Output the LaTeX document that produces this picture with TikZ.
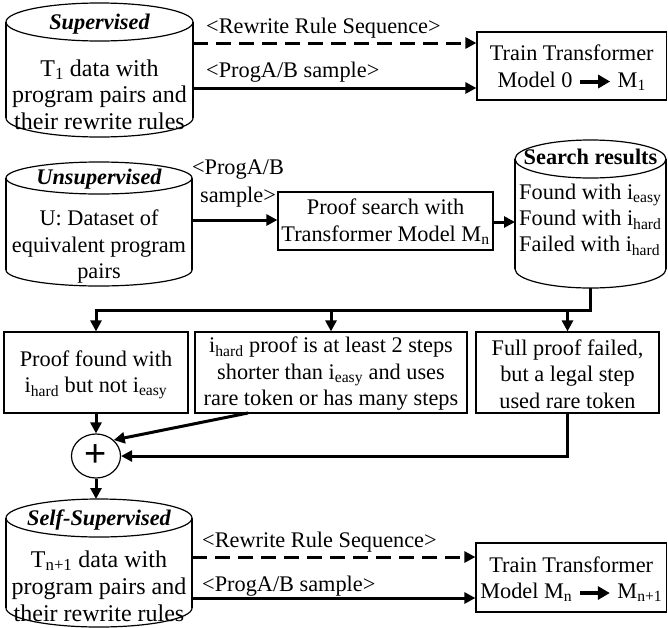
\documentclass[tikz,border=0pt]{standalone}
\usepackage{fontspec}
\setmainfont{Liberation Serif}
\setsansfont{Liberation Sans}
\usetikzlibrary{arrows.meta,shapes.geometric}

\newcommand\myfs{\fontsize{22.3}{26.5}\selectfont}
\newcommand\mybig{\fontsize{24}{26.5}\selectfont}
\newcommand\thickarr{\tikz[baseline=-5.5pt]\draw[line width=4pt,-{Triangle[length=12pt,width=13pt]}] (0pt,0pt) -- (30pt,0pt);}

\tikzset{
  conn/.style={line width=3pt, -{Triangle[length=11pt,width=11pt]}},
  dashconn/.style={conn, dash pattern=on 15pt off 8pt},
  boxnode/.style={draw, line width=1.2pt, inner sep=0pt, align=center, font=\myfs},
  region/.style={inner sep=0pt, outer sep=0pt},
  txt/.style={inner sep=0pt, align=center, font=\myfs},
  lbl/.style={inner sep=0pt, anchor=west, font=\myfs},
  head/.style={inner sep=0pt, font=\myfs\bfseries\itshape},
  cyl/.style={line width=1.2pt},
}

\begin{document}
\begin{tikzpicture}[x=1pt,y=-1pt]
\useasboundingbox (0,0) rectangle (668,627);

% ---------- Supervised cylinder ----------
\draw[cyl] (6,118) -- (6,22) (193,22) -- (193,118);
\draw[cyl] (6,118) arc[start angle=180,end angle=360,x radius=93.5pt,y radius=19pt];
\draw[cyl] (99.5,22) ellipse[x radius=93.5pt,y radius=19pt];
\node[region, minimum width=187pt, minimum height=135pt] (sup) at (99.5,69.5) {};
\node[head] (supT) at (99.5,24) {Supervised};
\node[txt, font=\mybig] (supB) at (99.5,94.5) {T\textsubscript{1} data with\\program pairs and\\their rewrite rules};

\node[boxnode, minimum width=189.5pt, minimum height=68pt] (train1) at (571.75,66) {};
\node[txt] (train1T) at (571.75,67.5) {Train Transformer\\Model 0 \thickarr\ M\textsubscript{1}};

\node[lbl] (lab1) at (206,28) {<Rewrite Rule Sequence>};
\node[lbl] (lab2) at (206,72) {<ProgA/B sample>};

\coordinate (ya) at (0,43);
\coordinate (yb) at (0,88);
\draw[dashconn] (sup.east |- ya) -- (train1.west |- ya);
\draw[conn] (sup.east |- yb) -- (train1.west |- yb);

% ---------- Unsupervised cylinder ----------
\draw[cyl] (6,178) -- (6,270) (192,178) -- (192,270);
\draw[cyl] (6,270) arc[start angle=180,end angle=360,x radius=93pt,y radius=16pt];
\draw[cyl] (99,178) ellipse[x radius=93pt,y radius=16pt];
\node[region, minimum width=186pt, minimum height=124pt] (unsup) at (99,224) {};
\node[head] (unsupT) at (99,179) {Unsupervised};
\node[txt] (unsupB) at (99,247) {U: Dataset of\\equivalent program\\pairs};

\node[txt, font=\fontsize{22.3}{28}\selectfont] (lab3) at (238,184) {<ProgA/B\\sample>};

\node[boxnode, minimum width=215pt, minimum height=58pt] (proof) at (385.5,221) {};
\node[txt, font=\fontsize{22.3}{27}\selectfont] (proofT) at (385.5,222) {Proof search with\\Transformer Model M\textsubscript{n}};

\coordinate (yc) at (0,220);
\draw[conn] (unsup.east |- yc) -- (proof.west |- yc);

% ---------- Search results cylinder ----------
\draw[cyl] (515,159) -- (515,269) (666,159) -- (666,269);
\draw[cyl] (515,269) arc[start angle=180,end angle=360,x radius=75.5pt,y radius=19pt];
\draw[cyl] (590.5,159) ellipse[x radius=75.5pt,y radius=19pt];
\node[region, minimum width=151pt, minimum height=148pt] (search) at (590.5,214) {};
\node[inner sep=0pt, font=\myfs\bfseries] (searchT) at (590.5,157) {Search results};
\node[txt, align=left, anchor=west, font=\fontsize{22.3}{26}\selectfont] (searchB) at (519,220) {Found with i\textsubscript{easy}\\Found with i\textsubscript{hard}\\Failed with i\textsubscript{hard}};

\coordinate (yd) at (0,222);
\draw[conn] (proof.east |- yd) -- (search.west |- yd);

% ---------- three criteria boxes ----------
\node[boxnode, minimum width=184pt, minimum height=81pt] (box1) at (96,372.5) {};
\node[txt] (box1T) at (96,375) {Proof found with\\i\textsubscript{hard} but not i\textsubscript{easy}};
\node[boxnode, minimum width=272pt, minimum height=81pt] (box2) at (331,372.5) {};
\node[txt] (box2T) at (331,374) {i\textsubscript{hard} proof is at least 2 steps\\shorter than i\textsubscript{easy} and uses\\rare token or has many steps};
\node[boxnode, minimum width=183pt, minimum height=81pt] (box3) at (567.5,372.5) {};
\node[txt] (box3T) at (567.5,374) {Full proof failed,\\but a legal step\\used rare token};

\coordinate (sp) at (0,310);
\draw[conn] (search.south) |- (box1.north |- sp) -- (box1.north);
\draw[conn] (box2.north |- sp) -- (box2.north);
\draw[conn] (box3.north |- sp) -- (box3.north);

% ---------- plus ----------
\node[ellipse, draw, line width=1.2pt, inner sep=0pt, minimum width=49pt, minimum height=44pt,
      font=\fontsize{38}{38}\selectfont\sffamily] (plus) at (96,456) {\raisebox{-3pt}{+}};

\coordinate (b2s) at (248,413);
\draw[conn] (box1.south) -- (plus.north);
\draw[conn] (b2s) -- (plus.north east);
\draw[conn] (box3.south) |- (plus.east);

% ---------- Self-Supervised cylinder ----------
\draw[cyl] (6,518) -- (6,608) (192,518) -- (192,608);
\draw[cyl] (6,608) arc[start angle=180,end angle=360,x radius=93pt,y radius=19pt];
\draw[cyl] (99,518) ellipse[x radius=93pt,y radius=19pt];
\node[region, minimum width=186pt, minimum height=128pt] (self) at (99,563) {};
\node[head] (selfT) at (99,520) {Self-Supervised};
\node[txt, font=\fontsize{24}{27}\selectfont] (selfB) at (99,586) {T\textsubscript{n+1} data with\\program pairs and\\their rewrite rules};

\draw[conn] (plus.south) -- (plus.south |- self.north);

\node[boxnode, minimum width=190.5pt, minimum height=69pt] (train2) at (571.25,577.5) {};
\node[txt] (train2T) at (571.25,579) {Train Transformer\\Model M\textsubscript{n} \thickarr\ M\textsubscript{n+1}};

\node[lbl] (lab4) at (202,542) {<Rewrite Rule Sequence>};
\node[lbl] (lab5) at (202,586) {<ProgA/B sample>};

\coordinate (ye) at (0,557);
\coordinate (yf) at (0,598);
\draw[dashconn] (self.east |- ye) -- (train2.west |- ye);
\draw[conn] (self.east |- yf) -- (train2.west |- yf);
\end{tikzpicture}
\end{document}
